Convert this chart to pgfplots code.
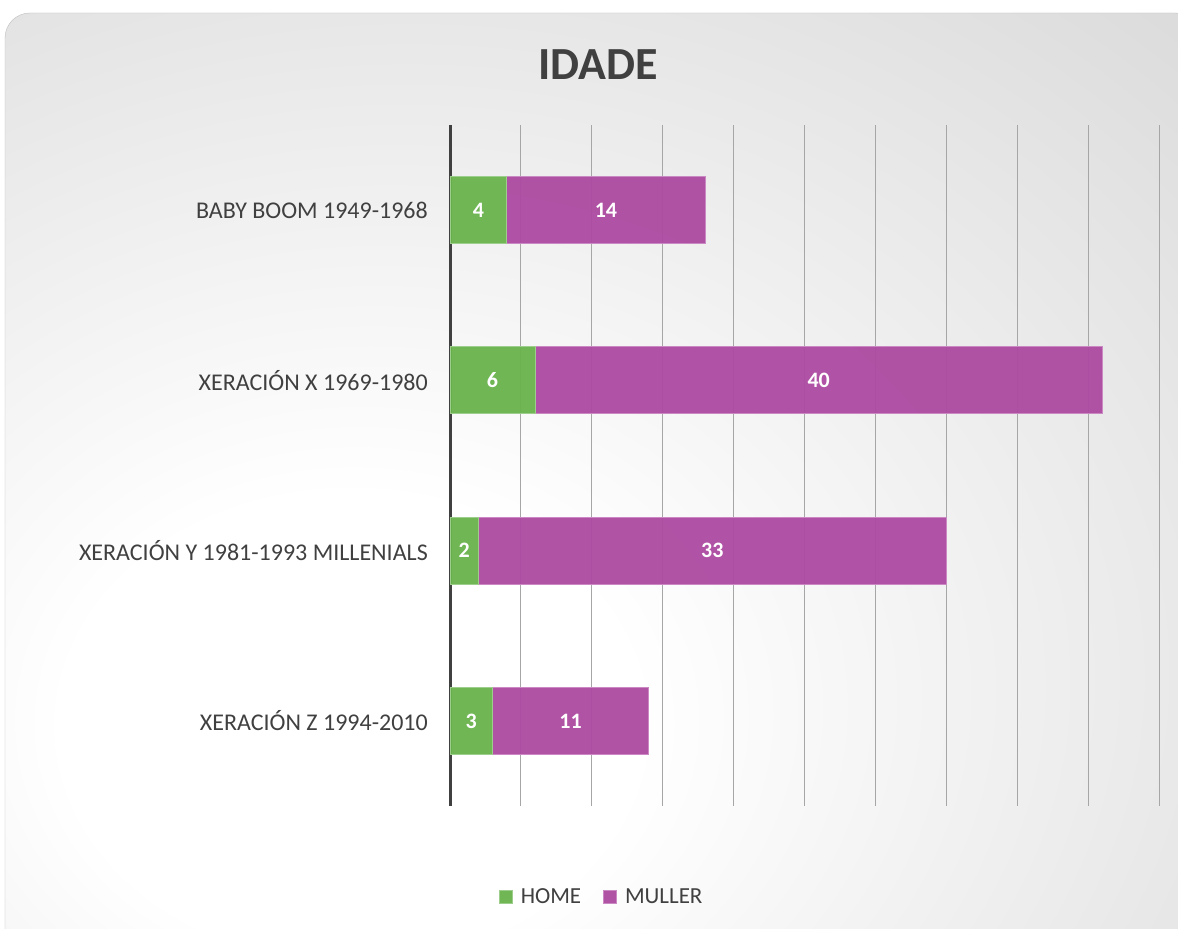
\documentclass[border=0pt]{standalone}
\usepackage{pgfplots}
\pgfplotsset{compat=1.18}
\usepackage{fontspec}
\setmainfont{Carlito}
\definecolor{homeg}{HTML}{6AB34C}
\definecolor{mullp}{HTML}{AD4AA1}
\definecolor{txt}{HTML}{404040}
\definecolor{grd}{HTML}{A6A6A6}
\pgfdeclareradialshading{bgshade}{\pgfpoint{-12bp}{-14bp}}{color(0bp)=(white); color(12bp)=(white); color(45bp)=(black!14); color(70bp)=(black!25); color(100bp)=(black!30)}
\begin{document}
\begin{tikzpicture}[x=1pt,y=1pt]
\useasboundingbox (0,0) rectangle (1178,929);
\begin{scope}
\clip (0,0) rectangle (1178,929);
\fill[white] (0,0) rectangle (1178,929);
\shade[shading=bgshade, rounded corners=25pt] (5,-40) rectangle (1200,916);
\draw[black!25, rounded corners=25pt] (5,-40) rectangle (1200,916);
\end{scope}
\node[font=\bfseries\fontsize{46}{50}\selectfont, text=txt] at (598,864) {IDADE};
\begin{axis}[
  at={(450pt,123pt)}, anchor=south west,
  scale only axis, width=709pt, height=681pt,
  xbar stacked, bar width=67pt,
  xmin=0, xmax=50, ymin=-0.5, ymax=3.5, y dir=reverse,
  xtick={0,5,...,50}, xticklabels={},
  xmajorgrids, major grid style={grd, line width=1pt},
  axis x line*=bottom, axis y line*=left,
  x axis line style={draw=none},
  y axis line style={line width=3pt, txt},
  major tick length=0pt,
  /pgf/number format/assume math mode=true,
  ytick={0,1,2,3},
  yticklabels={BABY BOOM 1949-1968, XERACIÓN X 1969-1980, XERACIÓN Y 1981-1993 MILLENIALS, XERACIÓN Z 1994-2010},
  yticklabel style={font=\fontsize{24}{28}\selectfont, text=txt, inner sep=0pt, xshift=-22pt},
  nodes near coords,
  every node near coord/.append style={font=\bfseries\fontsize{22}{26}\selectfont, text=white, anchor=center, fill opacity=1, text opacity=1},
  legend style={at={(0.214,-0.134)}, anchor=center, legend columns=-1, draw=none, fill=none, font=\fontsize{23}{27}\selectfont, text=txt, /tikz/every even column/.append style={column sep=20pt}},
  legend image code/.code={\draw[#1] (0pt,-6.5pt) rectangle (13pt,6.5pt); \path (19pt,0pt);},
]
\addplot[fill=homeg, draw=homeg!65!white, line width=0.8pt, fill opacity=0.95] coordinates {(4,0) (6,1) (2,2) (3,3)};
\addplot[fill=mullp, draw=mullp!65!white, line width=0.8pt, fill opacity=0.95] coordinates {(14,0) (40,1) (33,2) (11,3)};
\legend{HOME, MULLER}
\end{axis}
\end{tikzpicture}
\end{document}
